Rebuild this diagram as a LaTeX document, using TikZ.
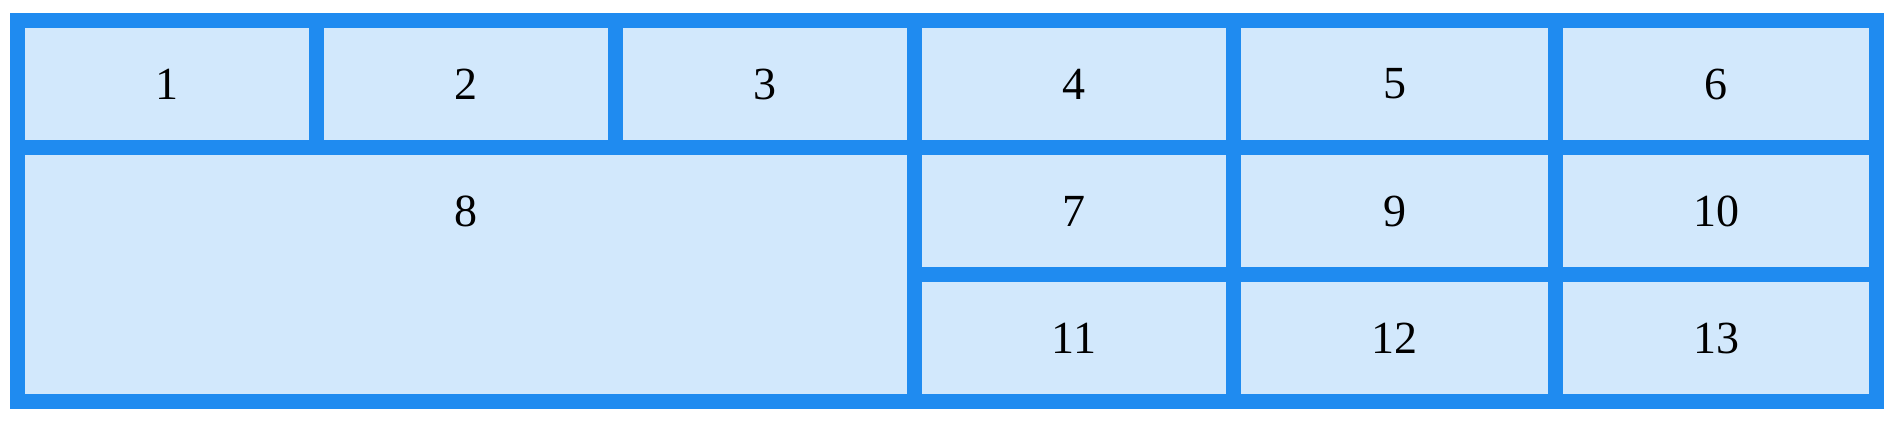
\documentclass[tikz,border=0pt]{standalone}
\usepackage{fontspec}
\setmainfont{Liberation Serif}
\definecolor{frameblue}{HTML}{1F8BF0}
\definecolor{cellfill}{HTML}{D2E8FC}
\begin{document}
\begin{tikzpicture}[x=1pt,y=-1pt,
  cell/.style={fill=cellfill,draw=none,inner sep=0pt,outer sep=0pt,rectangle},
  num/.style={inner sep=0pt,font=\fontsize{46}{50}\selectfont,text=black}]
\useasboundingbox (0,0) rectangle (1894,422);
\fill[frameblue] (10,13) rectangle (1884,409);
% row 1
\foreach \n/\xa/\xb in {1/25/309,2/324/608,3/623/907,4/922/1226,5/1241/1548,6/1563/1869}{
  \fill[cellfill] (\xa,28) rectangle (\xb,140);
  \node[num] (c\n) at ({(\xa+\xb)/2},84) {\n};
}
% big cell 8
\fill[cellfill] (25,155) rectangle (907,394);
\node[num] (c8) at (466,211) {8};
% row 2 right
\foreach \n/\xa/\xb in {7/922/1226,9/1241/1548,10/1563/1869}{
  \fill[cellfill] (\xa,155) rectangle (\xb,267);
  \node[num] (c\n) at ({(\xa+\xb)/2},211) {\n};
}
% row 3 right
\foreach \n/\xa/\xb in {11/922/1226,12/1241/1548,13/1563/1869}{
  \fill[cellfill] (\xa,282) rectangle (\xb,394);
  \node[num] (c\n) at ({(\xa+\xb)/2},338) {\n};
}
\end{tikzpicture}
\end{document}
